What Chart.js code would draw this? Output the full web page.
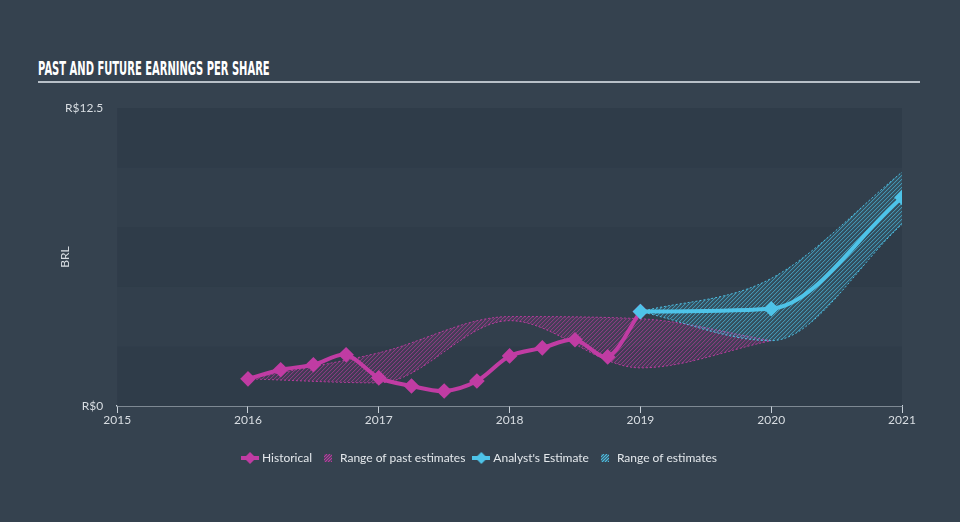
<!DOCTYPE html>
<html>
<head>
<meta charset="utf-8">
<script src="https://cdn.jsdelivr.net/npm/chart.js@4"></script>
<style>
  html, body { margin: 0; padding: 0; }
  body { width: 960px; height: 522px; background: #35424f; position: relative; overflow: hidden; font-family: Lato, "Open Sans", sans-serif; }
  #title { position: absolute; left: 38px; top: 57px; width: 882px; height: 24px; border-bottom: 2px solid #b8c0c8; }
  #title span { display: inline-block; transform: scaleX(0.525); transform-origin: left center; white-space: nowrap;
    color: #ffffff; font-family: "DejaVu Sans", sans-serif; font-weight: bold; font-size: 19px; line-height: 22px; }
  #wrap { position: absolute; left: 0; top: 0; width: 960px; height: 522px; }
</style>
</head>
<body>
<div id="title"><span>PAST AND FUTURE EARNINGS PER SHARE</span></div>
<div id="wrap"><canvas id="myChart"></canvas></div>
<script>
// historical EPS (quarterly points)
var histYears = [2016, 2016.25, 2016.5, 2016.75, 2017, 2017.25, 2017.5, 2017.75, 2018, 2018.25, 2018.5, 2018.75, 2019];
var histValues = [1.14, 1.52, 1.73, 2.15, 1.18, 0.84, 0.63, 1.05, 2.1, 2.44, 2.78, 2.06, 3.96];

// range of past estimates
var pastYears = [2016, 2017, 2018, 2019, 2020];
var pastHigh = [1.14, 2.23, 3.75, 3.66, 2.74];
var pastLow = [1.14, 0.97, 3.58, 1.6, 2.74];

// analyst estimates
var futYears = [2019, 2020, 2021];
var futValues = [3.96, 4.08, 8.75];
var futHigh = [3.96, 5.35, 9.81];
var futLow = [3.96, 2.74, 7.62];

var yTicks = [0, 2.5, 5, 7.5, 10, 12.5];
var xTicks = [2015, 2016, 2017, 2018, 2019, 2020, 2021];

var pink = "#c03ca3";
var blue = "#4ec3e8";

function lineIcon(color) {
  var c = document.createElement("canvas");
  c.width = 18;
  c.height = 12;
  var g = c.getContext("2d");
  g.strokeStyle = color;
  g.lineWidth = 4;
  g.beginPath();
  g.moveTo(0, 6);
  g.lineTo(18, 6);
  g.stroke();
  g.fillStyle = color;
  g.beginPath();
  g.moveTo(9, 0);
  g.lineTo(15, 6);
  g.lineTo(9, 12);
  g.lineTo(3, 6);
  g.closePath();
  g.fill();
  return c;
}

function hatchIcon(color) {
  var c = document.createElement("canvas");
  c.width = 8;
  c.height = 8;
  var g = c.getContext("2d");
  g.strokeStyle = color;
  g.lineWidth = 1.2;
  g.beginPath();
  for (var i = -8; i < 16; i += 3) {
    g.moveTo(i, 8);
    g.lineTo(i + 8, 0);
  }
  g.stroke();
  return c;
}

function pts(xs, ys) {
  return xs.map(function (x, i) { return { x: x, y: ys[i] }; });
}

// trace a dataset's curve using the control points chart.js computed
function trace(ctx, p, reverse) {
  var n = p.length;
  if (!reverse) {
    ctx.lineTo(p[0].x, p[0].y);
    for (var i = 1; i < n; i++) {
      ctx.bezierCurveTo(p[i - 1].cp2x, p[i - 1].cp2y, p[i].cp1x, p[i].cp1y, p[i].x, p[i].y);
    }
  } else {
    ctx.lineTo(p[n - 1].x, p[n - 1].y);
    for (var j = n - 1; j > 0; j--) {
      ctx.bezierCurveTo(p[j].cp1x, p[j].cp1y, p[j - 1].cp2x, p[j - 1].cp2y, p[j - 1].x, p[j - 1].y);
    }
  }
}

function hatchBetween(chart, a, b, color) {
  var ctx = chart.ctx;
  var area = chart.chartArea;
  var pa = chart.getDatasetMeta(a).data;
  var pb = chart.getDatasetMeta(b).data;
  ctx.save();
  ctx.beginPath();
  ctx.moveTo(pa[0].x, pa[0].y);
  trace(ctx, pa, false);
  trace(ctx, pb, true);
  ctx.closePath();
  ctx.clip();
  ctx.strokeStyle = color;
  ctx.lineWidth = 1;
  ctx.beginPath();
  var h = area.bottom - area.top;
  for (var x = area.left - h; x < area.right; x += 4) {
    ctx.moveTo(x, area.bottom);
    ctx.lineTo(x + h, area.top);
  }
  ctx.stroke();
  ctx.restore();
}

var bands = {
  id: "bands",
  beforeDatasetsDraw: function (chart) {
    var ctx = chart.ctx;
    var area = chart.chartArea;
    var y = chart.scales.y;
    ctx.save();
    for (var i = 0; i < yTicks.length - 1; i++) {
      var top = y.getPixelForValue(yTicks[i + 1]);
      var bot = y.getPixelForValue(yTicks[i]);
      ctx.fillStyle = i % 2 === 0 ? "#2f3c49" : "#323f4c";
      ctx.fillRect(area.left, top, area.right - area.left, bot - top);
    }
    ctx.restore();
    hatchBetween(chart, 0, 1, "rgba(192,60,163,0.7)");
    hatchBetween(chart, 2, 3, "rgba(78,195,232,0.75)");
  },
  afterDraw: function (chart) {
    var ctx = chart.ctx;
    var area = chart.chartArea;
    ctx.save();
    ctx.translate(65, (area.top + area.bottom) / 2);
    ctx.rotate(-Math.PI / 2);
    ctx.fillStyle = "#d8dde2";
    ctx.font = "12px Lato";
    ctx.textAlign = "center";
    ctx.textBaseline = "middle";
    ctx.fillText("BRL", 0, 0);
    ctx.restore();
  },
};

var lineOpts = {
  fill: false,
  borderWidth: 4,
  pointStyle: "rectRot",
  pointRadius: 5,
  pointHoverRadius: 5,
  cubicInterpolationMode: "monotone",
};

new Chart("myChart", {
  type: "line",
  data: {
    datasets: [
      {
        label: "pastHigh",
        data: pts(pastYears, pastHigh),
        borderColor: "rgba(192,60,163,0.9)",
        borderWidth: 1,
        borderDash: [2, 2],
        pointRadius: 0,
        fill: false,
        cubicInterpolationMode: "monotone",
        order: 5,
      },
      {
        label: "pastLow",
        data: pts(pastYears, pastLow),
        borderColor: "rgba(192,60,163,0.9)",
        borderWidth: 1,
        borderDash: [2, 2],
        pointRadius: 0,
        fill: { target: 0 },
        backgroundColor: "rgba(192,60,163,0.12)",
        cubicInterpolationMode: "monotone",
        order: 5,
      },
      {
        label: "futHigh",
        data: pts(futYears, futHigh),
        borderColor: "rgba(78,195,232,0.95)",
        borderWidth: 1,
        borderDash: [2, 2],
        pointRadius: 0,
        fill: false,
        cubicInterpolationMode: "monotone",
        order: 4,
      },
      {
        label: "futLow",
        data: pts(futYears, futLow),
        borderColor: "rgba(78,195,232,0.95)",
        borderWidth: 1,
        borderDash: [2, 2],
        pointRadius: 0,
        fill: { target: 2 },
        backgroundColor: "rgba(78,195,232,0.12)",
        cubicInterpolationMode: "monotone",
        order: 4,
      },
      Object.assign({}, lineOpts, {
        label: "Historical",
        data: pts(histYears, histValues),
        borderColor: pink,
        backgroundColor: pink,
        cubicInterpolationMode: "default",
        tension: 0.3,
        order: 2,
      }),
      Object.assign({}, lineOpts, {
        label: "Analyst's Estimate",
        data: pts(futYears, futValues),
        borderColor: blue,
        backgroundColor: blue,
        order: 1,
      }),
    ],
  },
  options: {
    responsive: true,
    maintainAspectRatio: false,
    animation: false,
    layout: { padding: { left: 59, right: 58, top: 108, bottom: 48 } },
    plugins: {
      tooltip: { enabled: false },
      legend: {
        position: "bottom",
        labels: {
          color: "#e4e8ec",
          font: { family: "Lato", size: 12 },
          usePointStyle: true,
          padding: 10,
          generateLabels: function () {
            return [
              { text: "Historical", pointStyle: lineIcon(pink), fontColor: "#e4e8ec", lineWidth: 0, strokeStyle: "transparent" },
              { text: "Range of past estimates", pointStyle: hatchIcon(pink), fontColor: "#e4e8ec", lineWidth: 0, strokeStyle: "transparent" },
              { text: "Analyst's Estimate", pointStyle: lineIcon(blue), fontColor: "#e4e8ec", lineWidth: 0, strokeStyle: "transparent" },
              { text: "Range of estimates", pointStyle: hatchIcon(blue), fontColor: "#e4e8ec", lineWidth: 0, strokeStyle: "transparent" },
            ];
          },
        },
        onClick: null,
      },
    },
    scales: {
      x: {
        type: "linear",
        min: 2015,
        max: 2021,
        afterBuildTicks: function (s) {
          s.ticks = xTicks.map(function (v) { return { value: v }; });
        },
        afterFit: function (s) {
          s.height = 36;
        },
        ticks: {
          color: "#d8dde2",
          font: { family: "Lato", size: 12 },
          padding: 0,
          maxRotation: 0,
          callback: function (v) { return String(v); },
        },
        grid: { drawOnChartArea: false, color: "#c8d0d8", tickLength: 7 },
        border: { color: "#c8d0d8", width: 1.5 },
      },
      y: {
        min: 0,
        max: 12.5,
        afterBuildTicks: function (s) {
          s.ticks = yTicks.map(function (v) { return { value: v }; });
        },
        ticks: {
          color: "#d8dde2",
          font: { family: "Lato", size: 12 },
          padding: 6,
          callback: function (v) {
            if (v === 0) return "R$0";
            if (v === 12.5) return "R$12.5";
            return "";
          },
        },
        grid: { display: false },
        border: { display: false },
      },
    },
  },
  plugins: [bands],
});
</script>
</body>
</html>
